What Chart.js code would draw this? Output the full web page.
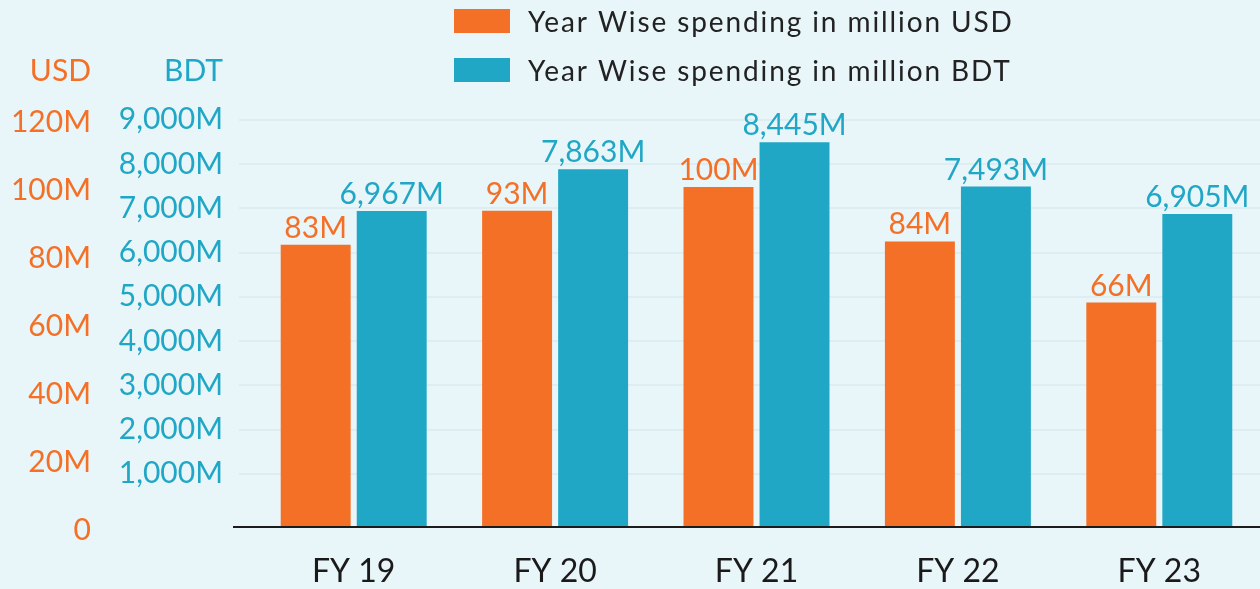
<!DOCTYPE html>
<html>
<head>
<meta charset="utf-8">
<title>Year Wise spending</title>
<script src="https://cdn.jsdelivr.net/npm/chart.js@4.4.1/dist/chart.umd.min.js"></script>
<style>
    html, body { margin: 0; padding: 0; background: #E8F5F9; }
    #wrap { width: 1260px; height: 589px; position: relative; }
</style>
</head>
<body>
<div id="wrap"><canvas id="spendingChart"></canvas></div>
<script>
// ------------------------------------------------------
// Data
// ------------------------------------------------------
const years = ["FY 19", "FY 20", "FY 21", "FY 22", "FY 23"];
const usdSpending = [83, 93, 100, 84, 66];
const bdtSpending = [6967, 7863, 8445, 7493, 6905];
const usdTicks = [0, 20, 40, 60, 80, 100, 120];
const bdtTicks = [1000, 2000, 3000, 4000, 5000, 6000, 7000, 8000, 9000];

const ORANGE = "#F47026";
const BLUE = "#21A7C6";
const FONT = "Lato";

const fmtUsd = v => v === 0 ? "0" : v + "M";
const fmtBdt = v => v.toLocaleString("en-US") + "M";

// ------------------------------------------------------
// Plugins (background, legend, titles, baseline, value labels)
// ------------------------------------------------------
const backgroundPlugin = {
    id: "background",
    beforeDraw(chart) {
        const ctx = chart.ctx;
        ctx.save();
        ctx.fillStyle = "#E8F5F9";
        ctx.fillRect(0, 0, chart.width, chart.height);
        ctx.restore();
    }
};

// two legend rows, boxes lined up on the left
const legendPlugin = {
    id: "stackedLegend",
    afterDraw(chart) {
        const ctx = chart.ctx;
        ctx.save();
        ctx.font = `28px ${FONT}`;
        ctx.letterSpacing = "1.9px";
        ctx.textBaseline = "alphabetic";
        ctx.textAlign = "left";
        chart.data.datasets.forEach((ds, i) => {
            const top = 9 + i * 49;
            ctx.fillStyle = ds.backgroundColor;
            ctx.fillRect(454, top, 56, 24);
            ctx.fillStyle = "#222222";
            ctx.fillText(ds.label, 528, top + 22.5);
        });
        ctx.restore();
    }
};

const axisTitlePlugin = {
    id: "axisTitles",
    afterDraw(chart) {
        const ctx = chart.ctx;
        ctx.save();
        ctx.font = `30px ${FONT}`;
        ctx.textAlign = "right";
        ctx.textBaseline = "alphabetic";
        ctx.fillStyle = ORANGE;
        ctx.fillText("USD", chart.scales.usd.right - 9, 81);
        ctx.fillStyle = BLUE;
        ctx.fillText("BDT", chart.scales.bdtTicks.right - 30, 81);
        ctx.restore();
    }
};

const baselinePlugin = {
    id: "baseline",
    afterDatasetsDraw(chart) {
        const ctx = chart.ctx;
        const area = chart.chartArea;
        ctx.save();
        ctx.strokeStyle = "#1C1C1C";
        ctx.lineWidth = 2;
        ctx.beginPath();
        ctx.moveTo(area.left - 20, area.bottom);
        ctx.lineTo(area.right, area.bottom);
        ctx.stroke();
        ctx.restore();
    }
};

const valueLabelPlugin = {
    id: "valueLabels",
    afterDatasetsDraw(chart) {
        const ctx = chart.ctx;
        ctx.save();
        ctx.font = `30px ${FONT}`;
        ctx.textAlign = "center";
        ctx.textBaseline = "alphabetic";
        chart.data.datasets.forEach((ds, i) => {
            const meta = chart.getDatasetMeta(i);
            ctx.fillStyle = ds.backgroundColor;
            meta.data.forEach((bar, j) => {
                ctx.fillText(ds.format(ds.data[j]), bar.x, bar.y - 7);
            });
        });
        ctx.restore();
    }
};

// ------------------------------------------------------
// Chart
// ------------------------------------------------------
const canvas = document.getElementById("spendingChart");
new Chart(canvas, {
    type: "bar",
    data: {
        labels: years,
        datasets: [
            {
                label: "Year Wise spending in million USD",
                data: usdSpending,
                backgroundColor: ORANGE,
                yAxisID: "usd",
                format: fmtUsd,
                categoryPercentage: 0.755,
                barPercentage: 0.92
            },
            {
                label: "Year Wise spending in million BDT",
                data: bdtSpending,
                backgroundColor: BLUE,
                yAxisID: "bdt",
                format: fmtBdt,
                categoryPercentage: 0.755,
                barPercentage: 0.92
            }
        ]
    },
    options: {
        responsive: true,
        maintainAspectRatio: false,
        animation: false,
        layout: { padding: { top: 119, left: 0, right: 0, bottom: 0 } },
        plugins: {
            legend: { display: false },
            tooltip: { enabled: false }
        },
        scales: {
            x: {
                grid: { display: false, drawTicks: false },
                border: { display: false },
                ticks: {
                    color: "#1A1A1A",
                    font: { family: FONT, size: 32 },
                    padding: 25,
                    maxRotation: 0
                },
                afterFit: axis => { axis.height = 62; }
            },
            // outer axis: USD values
            usd: {
                position: "left",
                weight: 2,
                min: 0,
                max: 120,
                grid: { display: false, drawTicks: false },
                border: { display: false },
                afterBuildTicks: axis => { axis.ticks = usdTicks.map(v => ({ value: v })); },
                ticks: {
                    color: ORANGE,
                    font: { family: FONT, size: 30 },
                    padding: 9,
                    labelOffset: 3,
                    callback: v => fmtUsd(v)
                },
                afterFit: axis => { axis.width = 100; }
            },
            // inner axis: BDT labels + grid lines
            bdtTicks: {
                position: "left",
                weight: 1,
                min: -203,
                max: 9017,
                grid: {
                    color: "#DDEDF1",
                    lineWidth: 2,
                    drawTicks: true,
                    tickLength: 14
                },
                border: { display: false },
                afterBuildTicks: axis => { axis.ticks = bdtTicks.map(v => ({ value: v })); },
                ticks: {
                    color: BLUE,
                    font: { family: FONT, size: 30 },
                    padding: 16,
                    callback: v => fmtBdt(v)
                },
                afterFit: axis => { axis.width = 153; }
            },
            // hidden axis the BDT bars are drawn on
            bdt: {
                display: false,
                position: "left",
                min: 172,
                max: 8946
            }
        }
    },
    plugins: [backgroundPlugin, baselinePlugin, valueLabelPlugin, axisTitlePlugin, legendPlugin]
});
</script>
</body>
</html>
